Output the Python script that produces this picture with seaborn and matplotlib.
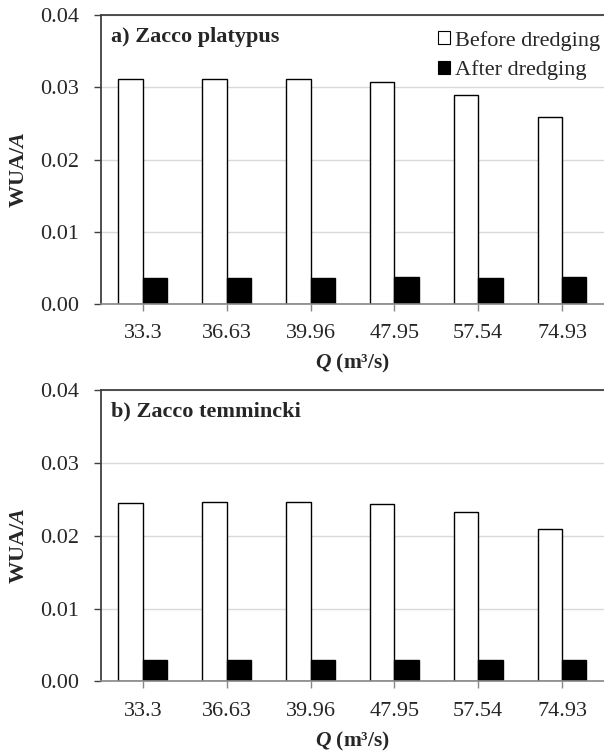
import matplotlib
matplotlib.use("Agg")
import matplotlib.pyplot as plt
import seaborn as sns
import pandas as pd

# ---- data ----
q_labels = ["33.3", "36.63", "39.96", "47.95", "57.54", "74.93"]
platypus_before = [0.0312, 0.0312, 0.0311, 0.0307, 0.0290, 0.0259]
platypus_after = [0.0036, 0.0036, 0.0036, 0.0038, 0.0036, 0.0038]
temmincki_before = [0.0245, 0.0247, 0.0247, 0.0243, 0.0233, 0.0209]
temmincki_after = [0.0029, 0.0029, 0.0029, 0.0029, 0.0029, 0.0029]
series_names = ["Before dredging", "After dredging"]
panel_titles = ["a) Zacco platypus", "b) Zacco temmincki"]
y_ticks = [0.00, 0.01, 0.02, 0.03, 0.04]

sns.set_style("white")
plt.rcParams["font.family"] = ["Liberation Serif", "DejaVu Serif"]
plt.rcParams["mathtext.fontset"] = "custom"
plt.rcParams["mathtext.rm"] = "Liberation Serif"
plt.rcParams["mathtext.it"] = "Liberation Serif:italic"
plt.rcParams["mathtext.bf"] = "Liberation Serif:bold"
plt.rcParams["mathtext.bfit"] = "Liberation Serif:italic:bold"


def make_df(before, after):
    rows = []
    for q, b, a in zip(q_labels, before, after):
        rows.append({"Q": q, "val": b, "Period": series_names[0]})
        rows.append({"Q": q, "val": a, "Period": series_names[1]})
    return pd.DataFrame(rows)


fig = plt.figure(figsize=(6.04, 7.53), dpi=100)
ax1 = fig.add_axes([0.167, 0.596, 0.833, 0.384])
ax2 = fig.add_axes([0.167, 0.095, 0.833, 0.387])

palette = {series_names[0]: "white", series_names[1]: "black"}
data_sets = [(platypus_before, platypus_after), (temmincki_before, temmincki_after)]

for i, (ax, (b, a), title) in enumerate(zip([ax1, ax2], data_sets, panel_titles)):
    df = make_df(b, a)
    sns.barplot(data=df, x="Q", y="val", hue="Period", order=q_labels,
                hue_order=series_names, palette=palette, edgecolor="black",
                linewidth=1.0, width=0.58, ax=ax, legend=(i == 0))
    ax.set_ylim(0, 0.04)
    ax.set_xlim(-0.5, len(q_labels) - 0.5)
    ax.set_yticks(y_ticks)
    ax.set_yticklabels([f"{t:.2f}" for t in y_ticks])
    ax.yaxis.grid(True, color="#d9d9d9", linewidth=1.0)
    ax.set_axisbelow(True)
    for s in ["top", "left"]:
        ax.spines[s].set_visible(True)
        ax.spines[s].set_color("#404040")
        ax.spines[s].set_linewidth(1.3)
    ax.spines["right"].set_visible(False)
    ax.spines["bottom"].set_color("#888888")
    ax.spines["bottom"].set_linewidth(1.2)
    ax.tick_params(axis="y", which="major", left=True, length=5, width=1,
                   color="#404040", labelsize=16, pad=11)
    ax.tick_params(axis="x", which="major", bottom=True, length=5, width=1,
                   color="#888888", labelsize=16, pad=9.5)
    ax.set_xlabel(r"$\mathbfit{Q}$ (m³/s)", fontsize=15.5, fontweight="bold", labelpad=6.5)
    ax.set_ylabel(r"WUA/$\mathbfit{A}$", fontsize=16, fontweight="bold", labelpad=8)
    ax.yaxis.label.set_y(0.465)
    ax.text(0.021, 0.925, title, transform=ax.transAxes, fontsize=16,
            fontweight="bold", ha="left", va="center")

leg = ax1.legend(loc="upper right", bbox_to_anchor=(1.023, 1.0), frameon=False,
                 fontsize=16, handlelength=0.55, handleheight=0.55,
                 handletextpad=0.2, labelspacing=0.45, borderaxespad=0.3)
for h in leg.legend_handles:
    h.set_linewidth(0.8)

fig.savefig("out.png", dpi=100)
